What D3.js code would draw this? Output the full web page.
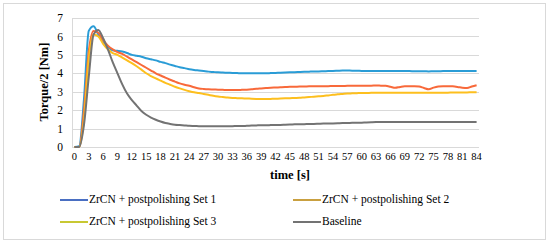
<!DOCTYPE html>
<html><head><meta charset="utf-8">
<script src="https://cdn.jsdelivr.net/npm/d3@7"></script>
<style>body{margin:0;background:#fff}svg{display:block}</style>
</head><body>
<svg id="c" width="550" height="244"></svg>
<script>
const times = d3.range(0, 85);
const xTickLabels = d3.range(0, 85, 3);
const yTicks = [0,1,2,3,4,5,6,7];
const seriesNames = ["ZrCN + postpolishing Set 1","ZrCN + postpolishing Set 2","ZrCN + postpolishing Set 3","Baseline"];
const set1 = [0,0.05,2.6,6.3,6.55,6.1,5.7,5.45,5.25,5.22,5.18,5.1,5.0,4.95,4.9,4.82,4.76,4.7,4.62,4.55,4.47,4.4,4.33,4.28,4.22,4.18,4.15,4.12,4.09,4.07,4.05,4.04,4.03,4.02,4.01,4.0,4.0,4.0,4.0,4.0,4.0,4.01,4.02,4.03,4.04,4.05,4.06,4.07,4.08,4.09,4.1,4.1,4.11,4.12,4.13,4.14,4.15,4.15,4.14,4.14,4.13,4.13,4.13,4.13,4.12,4.12,4.12,4.12,4.12,4.12,4.12,4.11,4.11,4.11,4.1,4.11,4.11,4.12,4.12,4.12,4.12,4.12,4.12,4.13,4.13];
const set2 = [0,0,2.0,5.2,6.3,6.2,5.8,5.5,5.3,5.15,5.05,4.9,4.75,4.6,4.45,4.3,4.15,4.0,3.88,3.76,3.65,3.55,3.45,3.38,3.32,3.24,3.18,3.15,3.13,3.12,3.11,3.1,3.09,3.09,3.09,3.1,3.11,3.13,3.16,3.18,3.2,3.22,3.23,3.24,3.25,3.27,3.27,3.28,3.28,3.29,3.29,3.3,3.3,3.3,3.31,3.31,3.31,3.32,3.32,3.32,3.33,3.33,3.33,3.34,3.33,3.32,3.27,3.21,3.26,3.3,3.3,3.3,3.28,3.2,3.13,3.22,3.28,3.3,3.3,3.29,3.26,3.22,3.2,3.28,3.35];
const set3 = [0,0,1.5,4.8,6.1,6.0,5.6,5.3,5.1,5.0,4.85,4.7,4.55,4.38,4.2,4.0,3.85,3.72,3.6,3.48,3.38,3.27,3.18,3.1,3.03,2.97,2.93,2.88,2.83,2.78,2.74,2.71,2.68,2.66,2.65,2.64,2.63,2.62,2.61,2.6,2.6,2.61,2.62,2.63,2.64,2.65,2.66,2.67,2.69,2.71,2.73,2.75,2.77,2.8,2.83,2.86,2.88,2.9,2.91,2.92,2.93,2.93,2.94,2.94,2.95,2.95,2.95,2.95,2.95,2.95,2.95,2.95,2.95,2.95,2.95,2.95,2.95,2.95,2.95,2.96,2.96,2.96,2.96,2.97,2.97];
const baseline = [0,0,1.2,3.8,6.1,6.35,5.9,5.3,4.6,4.0,3.4,2.9,2.55,2.25,1.95,1.75,1.6,1.48,1.38,1.3,1.25,1.21,1.19,1.17,1.15,1.14,1.13,1.12,1.12,1.12,1.12,1.12,1.13,1.13,1.14,1.14,1.15,1.16,1.17,1.18,1.18,1.19,1.2,1.2,1.21,1.22,1.23,1.24,1.24,1.25,1.25,1.26,1.27,1.27,1.28,1.29,1.3,1.3,1.31,1.31,1.32,1.33,1.34,1.35,1.36,1.35,1.35,1.35,1.35,1.35,1.35,1.35,1.35,1.35,1.35,1.35,1.35,1.35,1.35,1.35,1.35,1.35,1.35,1.35,1.35];
const allSeries = [set1, set2, set3, baseline];
const lineColors = ["#2a9cd6","#f8693a","#fdbf1e","#737373"];
const legendColors = ["#4a6fc2","#c9a040","#c8c832","#737373"];

const svg = d3.select("#c");
const font = "'Liberation Serif','Times New Roman',serif";
svg.append("rect").attr("x",3.5).attr("y",3.5).attr("width",542).attr("height",236)
  .attr("fill","#fff").attr("stroke","#d9d9d9");

const L = 72, R = 479, T = 18, B = 147;
const x = d3.scaleBand().domain(times).range([L, R]);
const y = d3.scaleLinear().domain([0, 7]).range([B, T]);
const cx = t => x(t) + x.bandwidth() / 2;

// gridlines
svg.append("g").selectAll("line").data(yTicks).join("line")
  .attr("x1", L).attr("x2", R).attr("y1", d => Math.round(y(d)) + 0.5).attr("y2", d => Math.round(y(d)) + 0.5)
  .attr("stroke", "#d9d9d9").attr("stroke-width", 1);
svg.append("line").attr("x1", L + 0.5).attr("x2", L + 0.5).attr("y1", T).attr("y2", B + 0.5)
  .attr("stroke", "#d9d9d9");

// y axis
const yAxis = svg.append("g").attr("transform", `translate(${L},0)`)
  .call(d3.axisLeft(y).tickValues(yTicks).tickSize(0).tickPadding(9).tickFormat(d3.format("d")));
yAxis.select(".domain").remove();
yAxis.selectAll("text").attr("font-family", font).attr("font-size", 11.5).attr("fill", "#000");

// x axis
const xAxis = svg.append("g").attr("transform", `translate(0,${B})`)
  .call(d3.axisBottom(x).tickValues(xTickLabels).tickSize(0).tickPadding(6));
xAxis.select(".domain").remove();
xAxis.selectAll("text").attr("font-family", font).attr("font-size", 10.5).attr("fill", "#000");

// lines
const line = d3.line().x((d, i) => cx(times[i])).y(d => y(d)).curve(d3.curveMonotoneX);
svg.append("g").selectAll("path").data(allSeries).join("path")
  .attr("d", line).attr("fill", "none")
  .attr("stroke", (d, i) => lineColors[i]).attr("stroke-width", 2)
  .attr("stroke-linejoin", "round");

// titles
svg.append("text").attr("transform", "translate(45,82) rotate(-90)")
  .attr("text-anchor", "middle").attr("dominant-baseline", "middle")
  .attr("font-family", font).attr("font-size", 12.5).attr("font-weight", "bold").text("Torque/2 [Nm]");
svg.append("text").attr("x", 290).attr("y", 179)
  .attr("text-anchor", "middle")
  .attr("font-family", font).attr("font-size", 12.5).attr("font-weight", "bold").text("time [s]");

// legend
const legPos = [[60, 200], [293, 200], [60, 222], [293, 222]];
const lg = svg.append("g").selectAll("g").data(seriesNames).join("g")
  .attr("transform", (d, i) => `translate(${legPos[i][0]},${legPos[i][1]})`);
lg.append("line").attr("x1", 0).attr("x2", 28).attr("stroke", (d, i) => legendColors[i]).attr("stroke-width", 2);
lg.append("text").attr("x", 29).attr("y", 0).attr("dominant-baseline", "middle")
  .attr("font-family", font).attr("font-size", 11.5).attr("fill", "#000").text(d => d);
</script>
</body></html>
